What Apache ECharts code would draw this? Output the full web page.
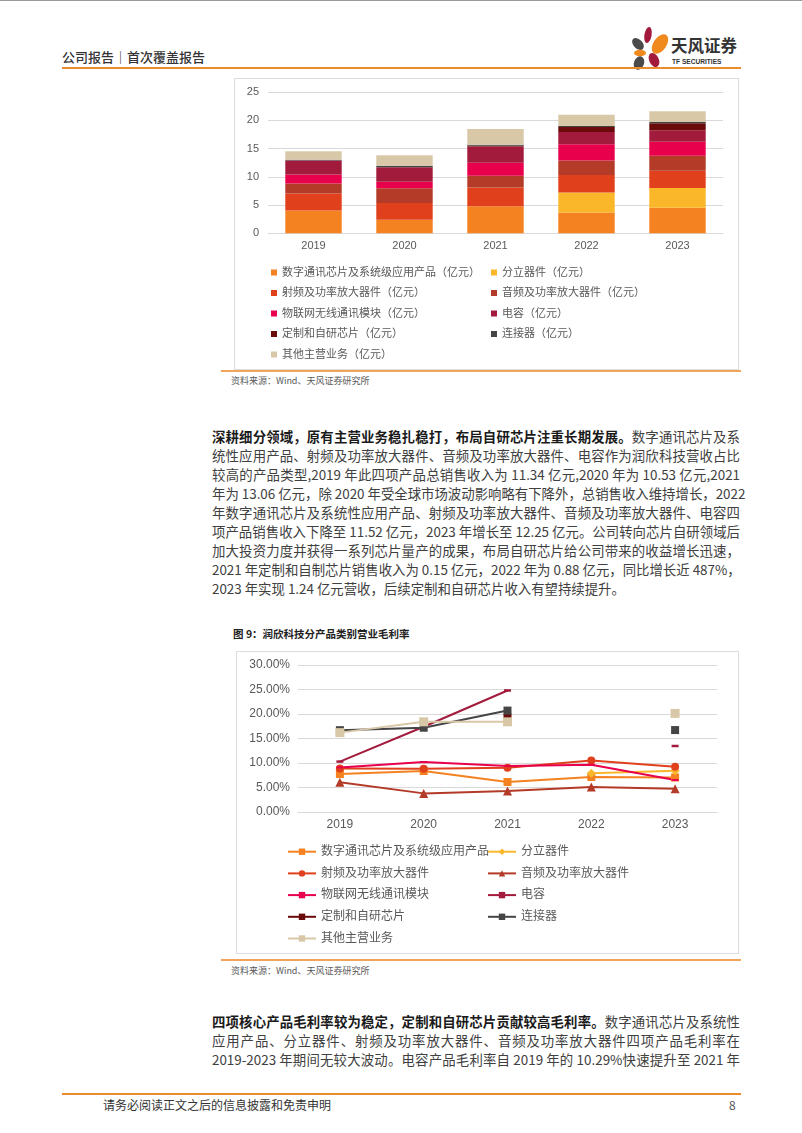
<!DOCTYPE html>
<html><head><meta charset="utf-8">
<script src="https://cdn.jsdelivr.net/npm/echarts@6/dist/echarts.min.js"></script>
<style>
body{margin:0;background:#fff;}
#page{position:relative;width:802px;height:1133px;overflow:hidden;background:#fff;font-family:"Noto Sans CJK SC","Noto Sans",sans-serif;}
.abs{position:absolute;}
.para{position:absolute;left:212px;width:528px;font-size:13.4px;color:#404040;}
.para div{height:19px;line-height:19px;white-space:nowrap;text-align:justify;text-align-last:justify;}
.para div.last{text-align-last:left;}
.para b{color:#1a1a1a;font-weight:700;}
</style></head>
<body><div id="page">
<div class="abs" style="left:0;top:0;width:802px;height:1px;background:#9a9a9a"></div>
<div class="abs" style="left:62px;top:48px;font-size:13px;color:#333;font-weight:500;line-height:18px;">公司报告｜首次覆盖报告</div>
<svg class="abs" style="left:625px;top:24px" width="50" height="48" viewBox="0 0 50 48">
  <ellipse cx="23" cy="11" rx="3.6" ry="8" fill="#A3193B" transform="rotate(10 23 11)"/>
  <ellipse cx="13" cy="20" rx="4.5" ry="7" fill="#4a4a4a" transform="rotate(-45 13 20)"/>
  <ellipse cx="35" cy="20" rx="6.5" ry="11" fill="#F08A1E" transform="rotate(35 35 20)"/>
  <ellipse cx="15" cy="29" rx="6" ry="3.3" fill="#F08A1E"/>
  <ellipse cx="14" cy="39" rx="5" ry="7" fill="#4a4a4a" transform="rotate(20 14 39)"/>
  <ellipse cx="29" cy="36" rx="4.8" ry="7.5" fill="#A3193B" transform="rotate(-25 29 36)"/>
</svg>
<div class="abs" style="left:671px;top:34px;font-size:16.5px;font-weight:700;color:#333;letter-spacing:0px;line-height:22px;">天风证券</div>
<div class="abs" style="left:672px;top:57px;font-size:6.6px;font-weight:700;color:#333;line-height:9px;font-family:'Liberation Sans',sans-serif;">TF SECURITIES</div>
<div class="abs" style="left:62px;top:67px;width:679px;height:2px;background:#EE8A2E"></div>

<div class="abs" style="left:234px;top:78px;width:503px;height:290px;border:1px solid #dcdcdc"></div>
<div id="c1" class="abs" style="left:234px;top:78px;width:505px;height:292px"></div>
<div class="abs" style="left:221px;top:370px;width:520px;height:2px;background:#F3A45C"></div>
<div class="abs" style="left:231px;top:375px;font-size:9px;color:#595959;line-height:12px;">资料来源：Wind、天风证券研究所</div>

<div class="para" style="top:426.5px">
<div><b>深耕细分领域，原有主营业务稳扎稳打，布局自研芯片注重长期发展。</b>数字通讯芯片及系</div>
<div>统性应用产品、射频及功率放大器件、音频及功率放大器件、电容作为润欣科技营收占比</div>
<div>较高的产品类型,2019 年此四项产品总销售收入为 11.34 亿元,2020 年为 10.53 亿元,2021</div>
<div>年为 13.06 亿元，除 2020 年受全球市场波动影响略有下降外，总销售收入维持增长，2022</div>
<div>年数字通讯芯片及系统性应用产品、射频及功率放大器件、音频及功率放大器件、电容四</div>
<div>项产品销售收入下降至 11.52 亿元，2023 年增长至 12.25 亿元。公司转向芯片自研领域后</div>
<div>加大投资力度并获得一系列芯片量产的成果，布局自研芯片给公司带来的收益增长迅速，</div>
<div>2021 年定制和自制芯片销售收入为 0.15 亿元，2022 年为 0.88 亿元，同比增长近 487%，</div>
<div class="last">2023 年实现 1.24 亿元营收，后续定制和自研芯片收入有望持续提升。</div>
</div>

<div class="abs" style="left:233px;top:627px;font-size:10.5px;font-weight:700;color:#222;line-height:14px;">图 9：润欣科技分产品类别营业毛利率</div>
<div class="abs" style="left:236px;top:651px;width:501px;height:301px;border:1px solid #dcdcdc"></div>
<div id="c2" class="abs" style="left:236px;top:651px;width:502px;height:302px"></div>
<div class="abs" style="left:221px;top:959px;width:520px;height:2px;background:#F3A45C"></div>
<div class="abs" style="left:231px;top:965px;font-size:9px;color:#595959;line-height:12px;">资料来源：Wind、天风证券研究所</div>

<div class="para" style="top:1011.5px">
<div><b>四项核心产品毛利率较为稳定，定制和自研芯片贡献较高毛利率。</b>数字通讯芯片及系统性</div>
<div>应用产品、分立器件、射频及功率放大器件、音频及功率放大器件四项产品毛利率在</div>
<div>2019-2023 年期间无较大波动。电容产品毛利率自 2019 年的 10.29%快速提升至 2021 年</div>
</div>

<div class="abs" style="left:62px;top:1093px;width:679px;height:2px;background:#EE8A2E"></div>
<div class="abs" style="left:103px;top:1097px;font-size:12px;color:#333;line-height:16px;">请务必阅读正文之后的信息披露和免责申明</div>
<div class="abs" style="left:729px;top:1097px;font-size:12px;color:#555;line-height:16px;">8</div>
</div>

<script>
const years = ['2019','2020','2021','2022','2023'];
const productNames = ['数字通讯芯片及系统级应用产品','分立器件','射频及功率放大器件','音频及功率放大器件','物联网无线通讯模块','电容','定制和自研芯片','连接器','其他主营业务'];
const unitSuffix = '（亿元）';
const colors = ['#F58220','#FBB72A','#E0401C','#B43B27','#E8004C','#A31B3C','#6B0A0A','#454545','#D8C8A8'];

// revenue (亿元)
const revDigital   = [4.05, 2.4, 4.8, 3.7, 4.5];
const revDiscrete  = [null, null, null, 3.54, 3.5];
const revRF        = [3.0, 2.95, 3.3, 3.06, 3.05];
const revAudio     = [1.75, 2.6, 2.1, 2.6, 2.65];
const revIoT       = [1.6, 1.15, 2.3, 2.86, 2.5];
const revCap       = [2.5, 2.6, 2.86, 2.18, 2.05];
const revCustom    = [null, null, 0.15, 0.88, 1.24];
const revConnector = [0.1, 0.25, 0.15, 0.15, 0.2];
const revOther     = [1.5, 1.85, 2.8, 2.0, 1.9];
const revTicks = [0, 5, 10, 15, 20, 25];

// gross margin (%)
const gmDigital   = [7.76, 8.37, 6.12, 7.14, 7.05];
const gmDiscrete  = [null, null, null, 7.9, 8.43];
const gmRF        = [8.87, 8.84, 9.05, 10.52, 9.25];
const gmAudio     = [6.05, 3.8, 4.29, 5.1, 4.72];
const gmIoT       = [9.1, 10.2, 9.4, 9.63, 6.52];
const gmCap       = [10.29, 17.4, 24.8, null, 13.47];
const gmCustom    = [null, null, 19.3, null, null];
const gmConnector = [16.7, 17.2, 20.7, null, 16.72];
const gmOther     = [16.2, 18.4, 18.4, null, 20.12];
const gmTicks = [0, 5, 10, 15, 20, 25, 30];

const FONT = '"Liberation Sans", Arial, "Noto Sans CJK SC", sans-serif';
const revData = [revDigital, revDiscrete, revRF, revAudio, revIoT, revCap, revCustom, revConnector, revOther];
const gmData  = [gmDigital, gmDiscrete, gmRF, gmAudio, gmIoT, gmCap, gmCustom, gmConnector, gmOther];
const leftIdx = [0,2,4,6,8], rightIdx = [1,3,5,7];

// ---- Chart 1: stacked bars ----
const c1 = echarts.init(document.getElementById('c1'), null, {renderer:'canvas'});
const barNames = productNames.map(n => n + unitSuffix);
const legendBase1 = {
  orient:'vertical', icon:'rect', itemWidth:6, itemHeight:6, itemGap:6.5, padding:0, height:200,
  textStyle:{fontSize:11, color:'#595959', fontFamily:FONT, lineHeight:14}, selectedMode:false
};
c1.setOption({
  animation:false,
  grid:{left:34, top:14, width:455, height:141.3},
  legend:[
    Object.assign({}, legendBase1, {left:37, top:187.5, data:leftIdx.map(i=>barNames[i])}),
    Object.assign({}, legendBase1, {left:257, top:187.5, data:rightIdx.map(i=>barNames[i])})
  ],
  xAxis:{type:'category', data:years, axisTick:{show:false},
    axisLine:{lineStyle:{color:'#d9d9d9'}},
    axisLabel:{color:'#595959', fontSize:11, fontFamily:FONT, margin:7}},
  yAxis:{type:'value', min:revTicks[0], max:revTicks[revTicks.length-1], interval:5,
    axisLine:{show:false}, axisTick:{show:false},
    splitLine:{lineStyle:{color:'#d9d9d9'}},
    axisLabel:{color:'#595959', fontSize:11, fontFamily:FONT, margin:9}},
  series: barNames.map((n,i)=>({
    name:n, type:'bar', stack:'rev', data:revData[i], barCategoryGap:'38%',
    itemStyle:{color:colors[i]}
  }))
});

// ---- Chart 2: lines ----
const c2 = echarts.init(document.getElementById('c2'), null, {renderer:'canvas'});
const symbols = ['rect','diamond','circle','triangle','rect','rect','rect','rect','rect'];
const symSizes = [8, 9, 8, 9, [7,2], [7,2.5], 8, 8, 9];
const legendBase2 = {
  orient:'vertical', itemWidth:28, itemHeight:8, itemGap:5.7, padding:0, height:200,
  textStyle:{fontSize:12, color:'#595959', fontFamily:FONT, lineHeight:16}, selectedMode:false
};
const legendItem = i => (i === 4 || i === 5)
  ? {name:productNames[i], itemStyle:{borderWidth:0}, icon:'rect'}
  : productNames[i];
c2.setOption({
  animation:false,
  grid:{left:62, top:14, width:419, height:147},
  legend:[
    Object.assign({}, legendBase2, {left:51, top:192.7, data:leftIdx.map(i=>productNames[i])}),
    Object.assign({}, legendBase2, {left:251, top:192.7, data:rightIdx.map(i=>productNames[i])})
  ],
  xAxis:{type:'category', data:years, boundaryGap:true, axisTick:{show:false},
    axisLine:{lineStyle:{color:'#d9d9d9'}},
    axisLabel:{color:'#595959', fontSize:12, fontFamily:FONT, margin:7}},
  yAxis:{type:'value', min:gmTicks[0], max:gmTicks[gmTicks.length-1], interval:5,
    axisLine:{show:false}, axisTick:{show:false},
    splitLine:{lineStyle:{color:'#d9d9d9'}},
    axisLabel:{color:'#595959', fontSize:12, fontFamily:FONT, margin:8,
      formatter:v=>v.toFixed(2)+'%'}},
  series: productNames.map((n,i)=>({
    name:n, type:'line', data:gmData[i], connectNulls:false,
    symbol:symbols[i], symbolSize:symSizes[i], showAllSymbol:true,
    lineStyle:{color:colors[i], width:2},
    itemStyle:{color:colors[i]}
  }))
});
</script>
</body></html>
